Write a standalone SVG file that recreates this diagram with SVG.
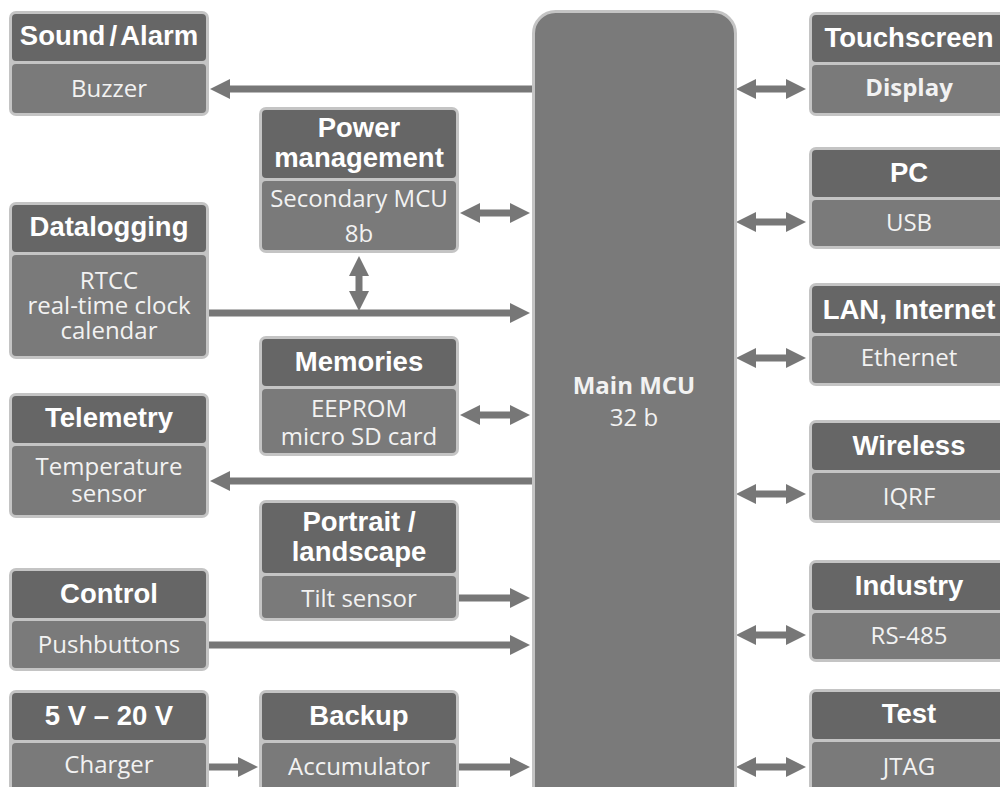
<svg xmlns="http://www.w3.org/2000/svg" width="1000" height="787" viewBox="0 0 1000 787">
<style>
.fr{fill:#c4c4c4}
.hd{fill:#666666}
.bd{fill:#7a7a7a}
.t{font-family:"Liberation Sans",Arial,sans-serif;font-weight:bold;font-size:27.5px;fill:#ffffff;text-anchor:middle}
.b{font-family:"Open Sans","Noto Sans",sans-serif;font-size:24px;fill:#f2f2f2;text-anchor:middle}
.bb{font-weight:bold}
.c{stroke:#777777;stroke-width:7;fill:none}
</style>
<defs>
<marker id="ah" markerUnits="userSpaceOnUse" markerWidth="20" markerHeight="20" refX="5" refY="10" orient="auto-start-reverse">
<path d="M0,0 L20,10 L0,20 z" fill="#777777"/>
</marker>
</defs>
<rect width="1000" height="787" fill="#ffffff"/>

<g id="connectors">
<line class="c" x1="533" y1="89" x2="225" y2="89" marker-end="url(#ah)"/>
<line class="c" x1="475" y1="213" x2="515" y2="213" marker-start="url(#ah)" marker-end="url(#ah)"/>
<line class="c" x1="359" y1="271" x2="359" y2="296" marker-start="url(#ah)" marker-end="url(#ah)"/>
<line class="c" x1="209" y1="313" x2="515" y2="313" marker-end="url(#ah)"/>
<line class="c" x1="475" y1="415" x2="515" y2="415" marker-start="url(#ah)" marker-end="url(#ah)"/>
<line class="c" x1="533" y1="481" x2="225" y2="481" marker-end="url(#ah)"/>
<line class="c" x1="459" y1="598" x2="515" y2="598" marker-end="url(#ah)"/>
<line class="c" x1="209" y1="645" x2="515" y2="645" marker-end="url(#ah)"/>
<line class="c" x1="209" y1="767" x2="243" y2="767" marker-end="url(#ah)"/>
<line class="c" x1="459" y1="767" x2="515" y2="767" marker-end="url(#ah)"/>
<line class="c" x1="751" y1="89" x2="791" y2="89" marker-start="url(#ah)" marker-end="url(#ah)"/>
<line class="c" x1="751" y1="222" x2="791" y2="222" marker-start="url(#ah)" marker-end="url(#ah)"/>
<line class="c" x1="751" y1="358" x2="791" y2="358" marker-start="url(#ah)" marker-end="url(#ah)"/>
<line class="c" x1="751" y1="494" x2="791" y2="494" marker-start="url(#ah)" marker-end="url(#ah)"/>
<line class="c" x1="751" y1="635" x2="791" y2="635" marker-start="url(#ah)" marker-end="url(#ah)"/>
<line class="c" x1="751" y1="767" x2="791" y2="767" marker-start="url(#ah)" marker-end="url(#ah)"/>
</g>

<g id="main-mcu">
<rect x="533.5" y="11.5" width="202" height="800" rx="22" fill="#7a7a7a" stroke="#c4c4c4" stroke-width="3"/>
<text class="b" x="634" y="394"><tspan class="bb">Main MCU</tspan><tspan x="634" dy="32">32 b</tspan></text>
</g>

<g id="sound-alarm">
<rect class="fr" x="9" y="11" width="200" height="105" rx="7"/>
<rect class="hd" x="12" y="14" width="194" height="47" rx="4"/>
<rect class="bd" x="12" y="64" width="194" height="49" rx="4"/>
<text class="t" x="109" y="45" word-spacing="-3.5">Sound / Alarm</text>
<text class="b" x="109" y="97">Buzzer</text>
</g>

<g id="datalogging">
<rect class="fr" x="9" y="202" width="200" height="157" rx="7"/>
<rect class="hd" x="12" y="205" width="194" height="47" rx="4"/>
<rect class="bd" x="12" y="255" width="194" height="101" rx="4"/>
<text class="t" x="109" y="236">Datalogging</text>
<text class="b" x="109" y="289">RTCC<tspan x="109" dy="25">real-time clock</tspan><tspan x="109" dy="25">calendar</tspan></text>
</g>

<g id="telemetry">
<rect class="fr" x="9" y="393" width="200" height="125" rx="7"/>
<rect class="hd" x="12" y="396" width="194" height="47" rx="4"/>
<rect class="bd" x="12" y="446" width="194" height="69" rx="4"/>
<text class="t" x="109" y="427">Telemetry</text>
<text class="b" x="109" y="475">Temperature<tspan x="109" dy="27">sensor</tspan></text>
</g>

<g id="control">
<rect class="fr" x="9" y="568" width="200" height="103" rx="7"/>
<rect class="hd" x="12" y="571" width="194" height="47" rx="4"/>
<rect class="bd" x="12" y="621" width="194" height="47" rx="4"/>
<text class="t" x="109" y="603">Control</text>
<text class="b" x="109" y="653">Pushbuttons</text>
</g>

<g id="supply">
<rect class="fr" x="9" y="690" width="200" height="110" rx="7"/>
<rect class="hd" x="12" y="693" width="194" height="47" rx="4"/>
<rect class="bd" x="12" y="743" width="194" height="60" rx="4"/>
<text class="t" x="109" y="725">5 V – 20 V</text>
<text class="b" x="109" y="773">Charger</text>
</g>

<g id="power-management">
<rect class="fr" x="259" y="107" width="200" height="146" rx="7"/>
<rect class="hd" x="262" y="110" width="194" height="68" rx="4"/>
<rect class="bd" x="262" y="181" width="194" height="69" rx="4"/>
<text class="t" x="359" y="137">Power<tspan x="359" dy="30">management</tspan></text>
<text class="b" x="359" y="207">Secondary MCU<tspan x="359" dy="35">8b</tspan></text>
</g>

<g id="memories">
<rect class="fr" x="259" y="336" width="200" height="120" rx="7"/>
<rect class="hd" x="262" y="339" width="194" height="47" rx="4"/>
<rect class="bd" x="262" y="389" width="194" height="64" rx="4"/>
<text class="t" x="359" y="371">Memories</text>
<text class="b" x="359" y="417">EEPROM<tspan x="359" dy="28">micro SD card</tspan></text>
</g>

<g id="portrait-landscape">
<rect class="fr" x="259" y="500" width="200" height="121" rx="7"/>
<rect class="hd" x="262" y="503" width="194" height="70" rx="4"/>
<rect class="bd" x="262" y="576" width="194" height="42" rx="4"/>
<text class="t" x="359" y="531">Portrait /<tspan x="359" dy="30">landscape</tspan></text>
<text class="b" x="359" y="607">Tilt sensor</text>
</g>

<g id="backup">
<rect class="fr" x="259" y="690" width="200" height="110" rx="7"/>
<rect class="hd" x="262" y="693" width="194" height="47" rx="4"/>
<rect class="bd" x="262" y="743" width="194" height="60" rx="4"/>
<text class="t" x="359" y="725">Backup</text>
<text class="b" x="359" y="775">Accumulator</text>
</g>

<g id="touchscreen">
<rect class="fr" x="809" y="12" width="200" height="104" rx="7"/>
<rect class="hd" x="812" y="15" width="194" height="47" rx="4"/>
<rect class="bd" x="812" y="65" width="194" height="48" rx="4"/>
<text class="t" x="909" y="47">Touchscreen</text>
<text class="b bb" x="909" y="96">Display</text>
</g>

<g id="pc">
<rect class="fr" x="809" y="147" width="200" height="102" rx="7"/>
<rect class="hd" x="812" y="150" width="194" height="47" rx="4"/>
<rect class="bd" x="812" y="200" width="194" height="46" rx="4"/>
<text class="t" x="909" y="182">PC</text>
<text class="b" x="909" y="231">USB</text>
</g>

<g id="lan-internet">
<rect class="fr" x="809" y="283" width="200" height="103" rx="7"/>
<rect class="hd" x="812" y="286" width="194" height="47" rx="4"/>
<rect class="bd" x="812" y="336" width="194" height="47" rx="4"/>
<text class="t" x="909" y="319">LAN, Internet</text>
<text class="b" x="909" y="366">Ethernet</text>
</g>

<g id="wireless">
<rect class="fr" x="809" y="420" width="200" height="103" rx="7"/>
<rect class="hd" x="812" y="423" width="194" height="47" rx="4"/>
<rect class="bd" x="812" y="473" width="194" height="47" rx="4"/>
<text class="t" x="909" y="455">Wireless</text>
<text class="b" x="909" y="505">IQRF</text>
</g>

<g id="industry">
<rect class="fr" x="809" y="560" width="200" height="102" rx="7"/>
<rect class="hd" x="812" y="563" width="194" height="47" rx="4"/>
<rect class="bd" x="812" y="613" width="194" height="46" rx="4"/>
<text class="t" x="909" y="595">Industry</text>
<text class="b" x="909" y="644">RS-485</text>
</g>

<g id="test">
<rect class="fr" x="809" y="689" width="200" height="110" rx="7"/>
<rect class="hd" x="812" y="692" width="194" height="47" rx="4"/>
<rect class="bd" x="812" y="742" width="194" height="60" rx="4"/>
<text class="t" x="909" y="723">Test</text>
<text class="b" x="909" y="775">JTAG</text>
</g>
</svg>
